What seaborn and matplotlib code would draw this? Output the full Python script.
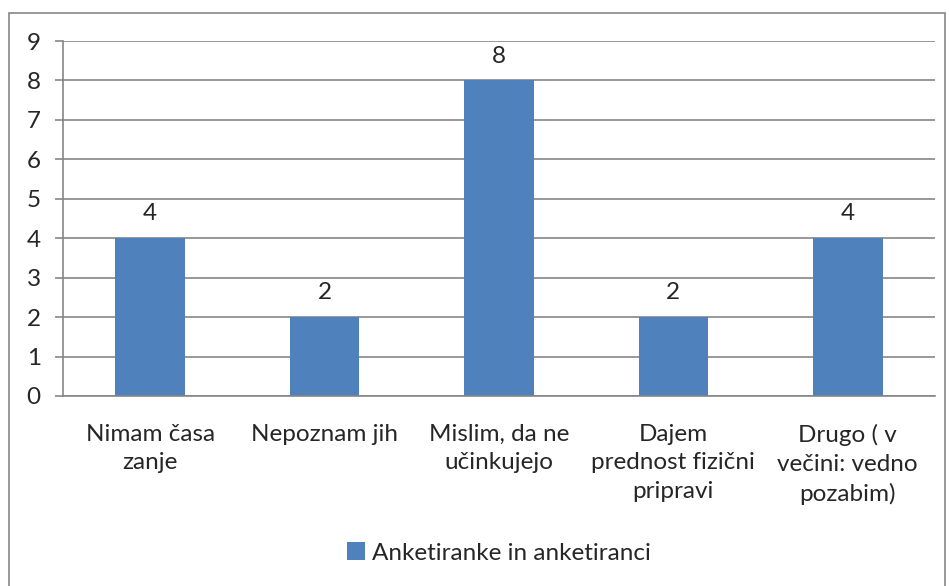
import pandas as pd
import matplotlib.pyplot as plt
from matplotlib.patches import Rectangle
from matplotlib.ticker import FixedLocator, NullFormatter
import seaborn as sns

categories = ["Nimam časa\nzanje", "Nepoznam jih", "Mislim, da ne\nučinkujejo",
              "Dajem\nprednost fizični\npripravi", "Drugo ( v\nvečini: vedno\npozabim)"]
values = [4, 2, 8, 2, 4]
series_name = "Anketiranke in anketiranci"

bar_color = "#4F81BD"
grid_color = "#868686"

sns.set_style("white")
plt.rcParams['font.family'] = ['Lato', 'DejaVu Sans']

df = pd.DataFrame({"kategorija": categories, "stevilo": values})

fig = plt.figure(figsize=(9.49, 5.86), dpi=100)
W, H = 949, 586
ax = fig.add_axes([63 / W, (H - 396) / H, (935 - 63) / W, (396 - 41) / H])

sns.barplot(data=df, x="kategorija", y="stevilo", color=bar_color, width=0.4,
            saturation=1, linewidth=0, ax=ax, label=series_name)

ax.set_ylim(0, 9)
ax.set_xlim(-0.5, len(categories) - 0.5)
ax.set_yticks(range(0, 10))
ax.yaxis.grid(True, color=grid_color, linewidth=1.2)
ax.set_axisbelow(True)
ax.set_xlabel("")
ax.set_ylabel("")

for s in ["top", "right"]:
    ax.spines[s].set_visible(False)
for s in ["left", "bottom"]:
    ax.spines[s].set_color(grid_color)
    ax.spines[s].set_linewidth(1.2)

# tick marks between categories, labels centred
ax.xaxis.set_minor_locator(FixedLocator([i - 0.5 for i in range(len(categories) + 1)]))
ax.xaxis.set_minor_formatter(NullFormatter())
ax.tick_params(axis="x", which="major", length=0, labelsize=17.5, pad=20)
ax.tick_params(axis="x", which="minor", length=6, width=1.2, color=grid_color, direction="out")
ax.tick_params(axis="y", length=6, width=1.2, color=grid_color, direction="out",
               labelsize=17.5, pad=10, left=True)
for lbl in ax.get_xticklabels():
    lbl.set_linespacing(1.45)
    lbl.set_verticalalignment("top")

for c in ax.containers:
    ax.bar_label(c, labels=[str(v) for v in values], padding=10, fontsize=17.5)

ax.legend(loc="upper center", bbox_to_anchor=(0.5, -0.35), frameon=False,
          fontsize=17.5, handlelength=0.75, handleheight=0.75, handletextpad=0.3)

fig.patches.append(Rectangle((8.5 / W, -0.01), (945 - 8.5) / W, (H - 12.5) / H + 0.01,
                             transform=fig.transFigure, fill=False,
                             edgecolor=grid_color, linewidth=1.2))

fig.savefig("out.png", dpi=100)
